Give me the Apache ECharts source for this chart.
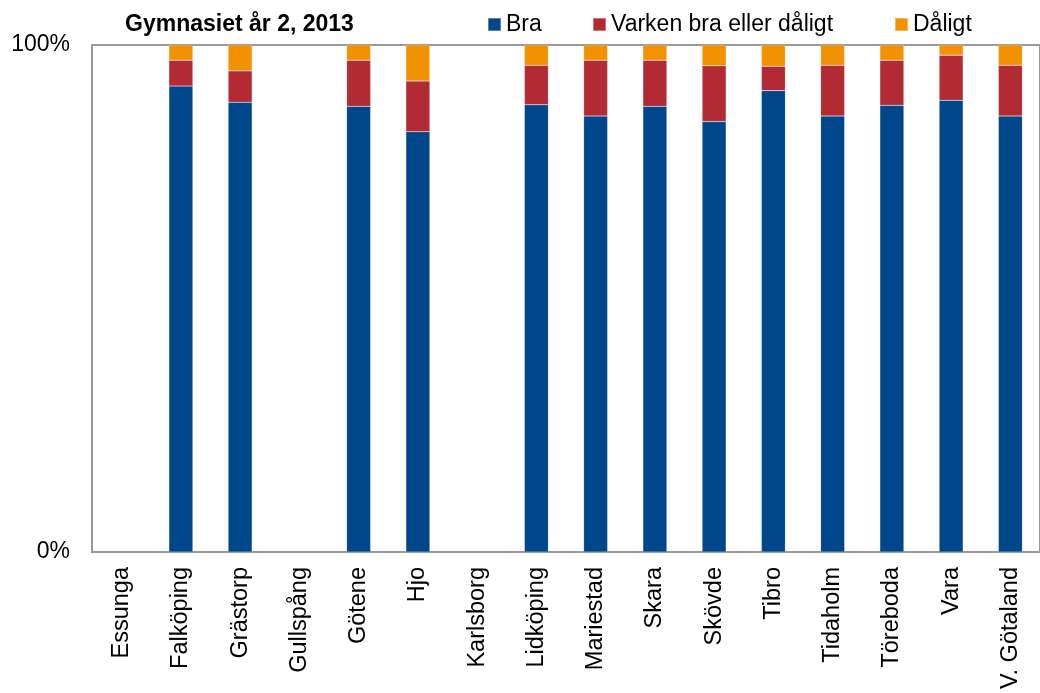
<!DOCTYPE html>
<html>
<head>
<meta charset="utf-8">
<script src="https://cdn.jsdelivr.net/npm/echarts@6/dist/echarts.min.js"></script>
<style>html,body{margin:0;padding:0;background:#fff;}#c{width:1040px;height:693px;}</style>
</head>
<body>
<div id="c"></div>
<script>
const categories = ["Essunga","Falköping","Grästorp","Gullspång","Götene","Hjo","Karlsborg","Lidköping","Mariestad","Skara","Skövde","Tibro","Tidaholm","Töreboda","Vara","V. Götaland"];
const bra     = [null, 91.9, 88.7, null, 87.9, 82.9, null, 88.2, 86.0, 87.9, 84.9, 91.0, 86.0, 88.1, 89.1, 86.0];
const varken  = [null,  5.1,  6.2, null,  9.1, 10.0, null,  7.8, 11.0,  9.1, 11.0,  4.8, 10.0,  8.9,  8.9, 10.0];
const daligt  = [null,  3.0,  5.1, null,  3.0,  7.1, null,  4.0,  3.0,  3.0,  4.1,  4.2,  4.0,  3.0,  2.0,  4.0];
const seriesNames = ["Bra","Varken bra eller dåligt","Dåligt"];
const yTicks = ["0%","100%"];

const FONT = "'Liberation Sans', Arial, sans-serif";
const colors = ["#00468A", "#B22A33", "#F39200"];
const legendLefts = [487, 592, 894];

const chart = echarts.init(document.getElementById('c'), null, {renderer:'canvas'});
chart.setOption({
  animation: false,
  color: colors,
  title: {
    text: "Gymnasiet år 2, 2013",
    left: 125, top: 13, padding: 0,
    textStyle: {fontFamily: FONT, fontSize: 23, fontWeight: 'bold', color: '#000', lineHeight: 23}
  },
  legend: seriesNames.map((n, i) => ({
    data: [n], left: legendLefts[i], top: 13, padding: 0,
    itemWidth: 13, itemHeight: 13, icon: 'rect',
    textStyle: {fontFamily: FONT, fontSize: 23, color: '#000', lineHeight: 23}
  })),
  grid: {left: 92, top: 45, width: 960, height: 507, show: true, borderColor: '#9a9a9a', borderWidth: 2, containLabel: false},
  xAxis: {
    type: 'category', data: categories,
    axisLine: {lineStyle: {color: '#9a9a9a', width: 2}},
    axisTick: {show: false},
    axisLabel: {rotate: 90, interval: 0, margin: 15, fontFamily: FONT, fontSize: 23.5, color: '#000'}
  },
  yAxis: {
    type: 'value', min: 0, max: 100, interval: 100,
    axisLine: {show: true, lineStyle: {color: '#9a9a9a', width: 2}},
    axisTick: {show: false},
    splitLine: {show: false},
    axisLabel: {margin: 22, fontFamily: FONT, fontSize: 23, color: '#000',
      formatter: v => yTicks[v === 0 ? 0 : 1]}
  },
  series: [bra, varken, daligt].map((d, i) => ({
    name: seriesNames[i], type: 'bar', stack: 'total', data: d,
    barWidth: 24,
    itemStyle: {color: colors[i], borderColor: 'rgba(255,255,255,0.35)', borderWidth: 0.5}
  }))
});
</script>
</body>
</html>
